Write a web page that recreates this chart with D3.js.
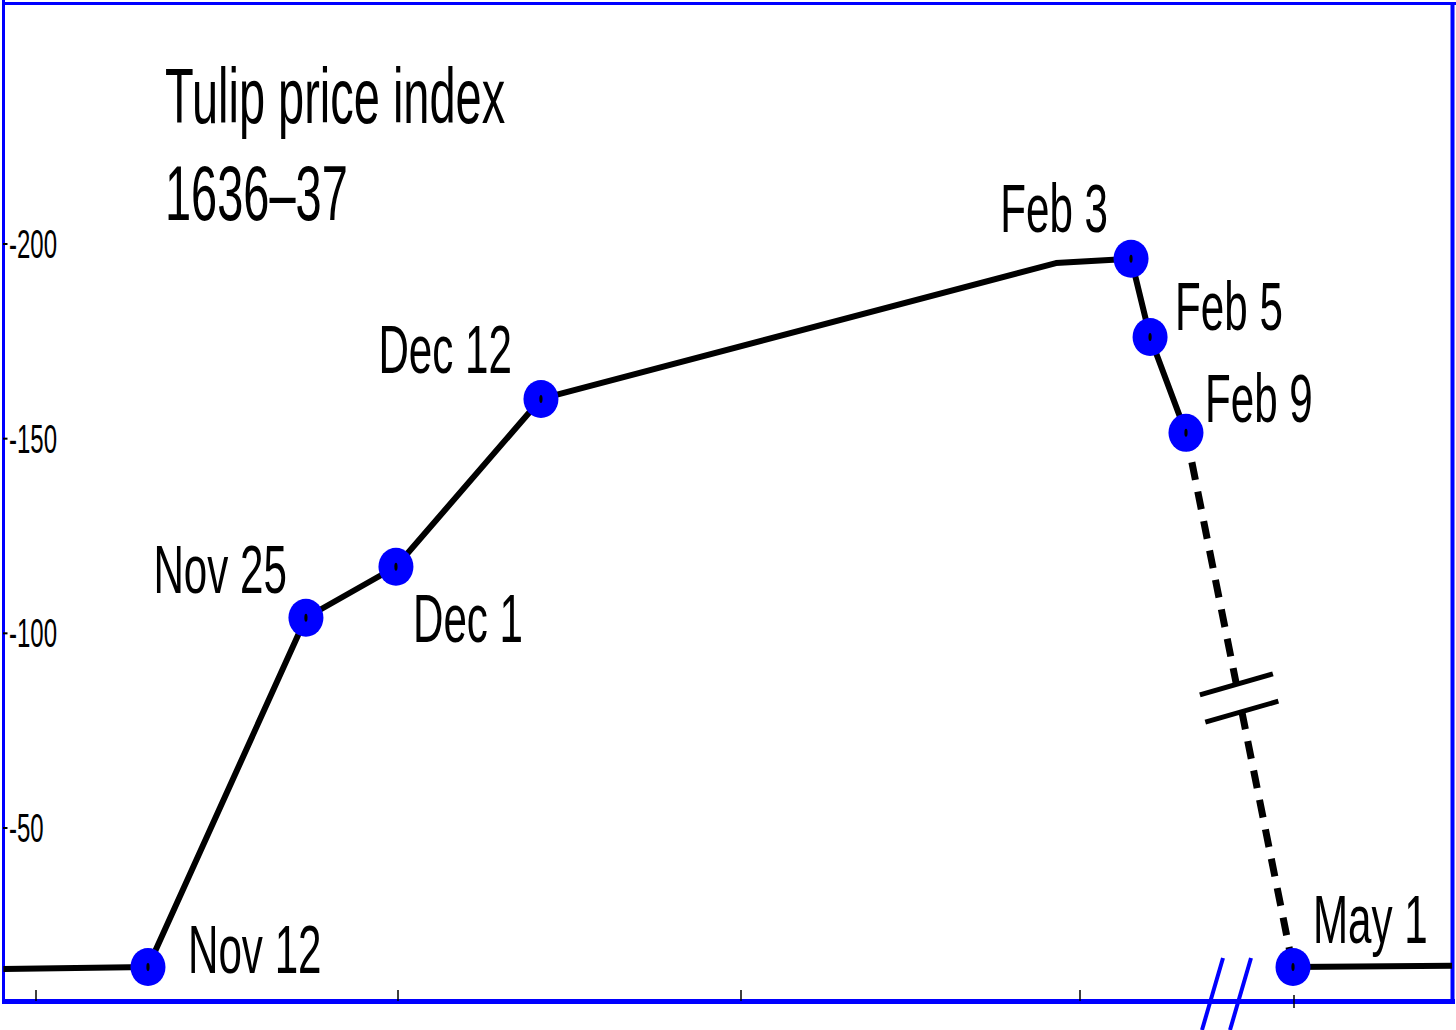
<!DOCTYPE html>
<html><head><meta charset="utf-8">
<script src="https://cdn.jsdelivr.net/npm/d3@7"></script>
<style>html,body{margin:0;padding:0;background:#fff;overflow:hidden}</style>
</head><body>
<svg id="c" width="1456" height="1030"></svg>
<script>
// ---- data (days counted from 1 Nov 1636 on the chart's own, broken time axis) ----
const pointLabels = ["Nov 12", "Nov 25", "Dec 1", "Dec 12", "Feb 3", "Feb 5", "Feb 9", "May 1"];
const pointDays   = [9.28, 22.37, 29.83, 42.92, 95.78, 97.19, 99.85, 180];
const pointIndex  = [14.3, 104.0, 117.1, 160.2, 196.2, 176.1, 151.5, 14.3];
const leadDays  = [-2.7];  const leadIndex  = [13.8];   // flat line before Nov 12
const bendDays  = [89.8];  const bendIndex  = [195.1];  // unmarked bend late Jan
const tailDays  = [211];   const tailIndex  = [14.6];   // flat line after May 1
const yTicks = [50, 100, 150, 200];
const monthTickDays = [0, 30, 61, 92, 181];
const titleLines = ["Tulip price index", "1636\u201337"];

// ---- layout / style ----
const BLUE = "#0000ff";
const FONT = "'Liberation Sans', Arial, sans-serif";
const labelOffsets = [
  {dx: 40, dy: 6, a: "start"}, {dx: -19, dy: -25, a: "end"}, {dx: 17, dy: 75, a: "start"},
  {dx: -29, dy: -26, a: "end"}, {dx: -23, dy: -27, a: "end"}, {dx: 25, dy: -7, a: "start"},
  {dx: 19, dy: -11, a: "start"}, {dx: 20, dy: -24, a: "start"}
];

const svg = d3.select("#c");
const x = d3.scaleLinear()
  .domain([0, 30, 61, 92, 102, 181, 211])
  .range([36, 398, 741, 1080, 1215, 1294, 1452]);
const y = d3.scaleLinear().domain([50, 200]).range([828, 244]);

// frame
svg.append("line").attr("x1", 3.5).attr("x2", 3.5).attr("y1", 0).attr("y2", 1004)
  .attr("stroke", BLUE).attr("stroke-width", 3);
svg.append("line").attr("x1", 2).attr("x2", 1456).attr("y1", 3.5).attr("y2", 3.5)
  .attr("stroke", BLUE).attr("stroke-width", 3);
svg.append("line").attr("x1", 1452.5).attr("x2", 1452.5).attr("y1", 2).attr("y2", 1004)
  .attr("stroke", BLUE).attr("stroke-width", 4);
svg.append("line").attr("x1", 2).attr("x2", 1455).attr("y1", 1001.5).attr("y2", 1001.5)
  .attr("stroke", BLUE).attr("stroke-width", 5);

// bottom month ticks
svg.append("g").selectAll("line").data(monthTickDays).join("line")
  .attr("x1", d => x(d)).attr("x2", d => x(d))
  .attr("y1", (d, i) => i === monthTickDays.length - 1 ? 995 : 990)
  .attr("y2", (d, i) => i === monthTickDays.length - 1 ? 1008 : 1001)
  .attr("stroke", "#000").attr("stroke-width", 1.5);

// axis break slashes
const bx = x(102);
[-2.5, 25.5].forEach(o => {
  svg.append("line").attr("x1", bx + o - 10.5).attr("y1", 1030)
    .attr("x2", bx + o + 10.5).attr("y2", 958)
    .attr("stroke", BLUE).attr("stroke-width", 4);
});

// y ticks
const yt = svg.append("g").selectAll("g").data(yTicks).join("g")
  .attr("transform", d => `translate(0,${y(d)})`);
yt.append("line").attr("x1", 3).attr("x2", 7.5).attr("stroke", "#000").attr("stroke-width", 2);
yt.append("text").attr("transform", "translate(9,14) scale(0.6,1)")
  .attr("font-family", FONT).attr("font-size", 40).attr("fill", "#000")
  .text(d => "-" + d);

// title
svg.append("g").selectAll("text").data(titleLines).join("text")
  .attr("transform", (d, i) => `translate(165,${123 + i * 97}) scale(0.61,1)`)
  .attr("font-family", FONT).attr("font-size", 77).attr("fill", "#000")
  .text(d => d);

// line paths
const pts = pointDays.map((d, i) => ({day: d, v: pointIndex[i], label: pointLabels[i]}));
const line = d3.line().x(d => x(d.day)).y(d => y(d.v));
const solidA = [{day: leadDays[0], v: leadIndex[0]}, pts[0], pts[1], pts[2], pts[3],
                {day: bendDays[0], v: bendIndex[0]}, pts[4], pts[5], pts[6]];
const solidB = [pts[7], {day: tailDays[0], v: tailIndex[0]}];
svg.append("path").attr("d", line(solidA)).attr("fill", "none").attr("stroke", "#000")
  .attr("stroke-width", 6).attr("stroke-linejoin", "round");
svg.append("path").attr("d", line(solidB)).attr("fill", "none").attr("stroke", "#000")
  .attr("stroke-width", 6);

// dashed crash segment (straight on screen) with break
const p9 = pts[6], p1 = pts[7];
const A = [x(p9.day), y(p9.v)], B = [x(p1.day), y(p1.v)];
const at = t => [A[0] + (B[0] - A[0]) * t, A[1] + (B[1] - A[1]) * t];
const b1 = at(0.471), b2 = at(0.522);
[[A, b1], [b2, B]].forEach(seg => {
  svg.append("path").attr("d", d3.line()(seg)).attr("fill", "none").attr("stroke", "#000")
    .attr("stroke-width", 7).attr("stroke-dasharray", "18,12");
});
const ang = Math.atan2(-21, 73);
[b1, b2].forEach(b => {
  const cx = b[0], cy = b[1], h = 38;
  svg.append("line").attr("x1", cx - h * Math.cos(ang)).attr("y1", cy - h * Math.sin(ang))
    .attr("x2", cx + h * Math.cos(ang)).attr("y2", cy + h * Math.sin(ang))
    .attr("stroke", "#000").attr("stroke-width", 5);
});

// dots
const dots = svg.append("g").selectAll("g").data(pts).join("g")
  .attr("transform", d => `translate(${x(d.day)},${y(d.v)})`);
dots.append("ellipse").attr("rx", 17.5).attr("ry", 19).attr("fill", BLUE);
dots.append("ellipse").attr("rx", 1.6).attr("ry", 4).attr("fill", "#000");

// point labels
svg.append("g").selectAll("text").data(pts).join("text")
  .attr("transform", (d, i) => `translate(${x(d.day) + labelOffsets[i].dx},${y(d.v) + labelOffsets[i].dy}) scale(0.62,1)`)
  .attr("text-anchor", (d, i) => labelOffsets[i].a)
  .attr("font-family", FONT).attr("font-size", 68).attr("fill", "#000")
  .text(d => d.label);
</script>
</body></html>
